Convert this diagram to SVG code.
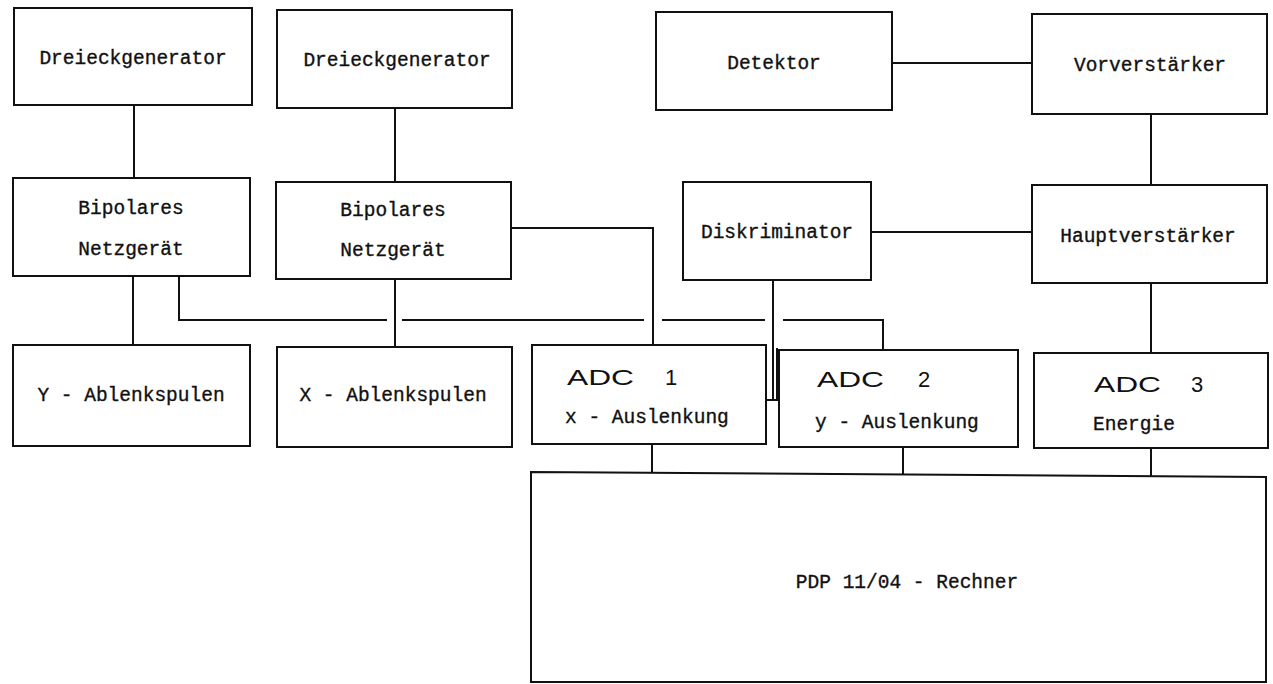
<svg xmlns="http://www.w3.org/2000/svg" width="1273" height="684" viewBox="0 0 1273 684">
<style>
.box{fill:#fff;stroke:#111;stroke-width:2}
.wire{fill:none;stroke:#111;stroke-width:2}
.lbl{font-family:"Liberation Mono","DejaVu Sans Mono",monospace;font-size:19.5px;fill:#111;stroke:#111;stroke-width:0.35;text-anchor:middle}
.lbs{font-family:"Liberation Mono","DejaVu Sans Mono",monospace;font-size:19.5px;fill:#111;stroke:#111;stroke-width:0.35}
.adc{font-family:"Liberation Sans",Arial,sans-serif;font-size:22px;fill:#111}
</style>
<rect width="1273" height="684" fill="#fff"/>
<g id="connectors">
<path class="wire" d="M134 105V178"/>
<path class="wire" d="M395 108V182"/>
<path class="wire" d="M892 63H1032"/>
<path class="wire" d="M1151 114V185"/>
<path class="wire" d="M133 276V345"/>
<path class="wire" d="M395 279V347"/>
<path class="wire" d="M511 228H653V345"/>
<path class="wire" d="M871 232H1032"/>
<path class="wire" d="M1151 283V353"/>
<path class="wire" d="M179 276V320H387M402 320H644M662 320H765M783 320H883V350"/>
<path class="wire" d="M773 280V400M777 348V400M766 400H779"/>
<path class="wire" d="M652 444V472"/>
<path class="wire" d="M903 447V474"/>
<path class="wire" d="M1151 448V477"/>
</g>
<g id="dreieck1"><rect class="box" x="14" y="8" width="238" height="97"/><text class="lbl" x="133" y="64">Dreieckgenerator</text></g>
<g id="dreieck2"><rect class="box" x="277" y="10" width="235" height="98"/><text class="lbl" x="397" y="66">Dreieckgenerator</text></g>
<g id="detektor"><rect class="box" x="656" y="12" width="236" height="98"/><text class="lbl" x="774" y="69">Detektor</text></g>
<g id="vorverstaerker"><rect class="box" x="1032" y="14" width="235" height="100"/><text class="lbl" x="1150" y="71">Vorverstärker</text></g>
<g id="bipolar1"><rect class="box" x="13" y="178" width="237" height="98"/><text class="lbl" x="131" y="214">Bipolares</text><text class="lbl" x="131" y="255">Netzgerät</text></g>
<g id="bipolar2"><rect class="box" x="276" y="182" width="235" height="97"/><text class="lbl" x="393" y="216">Bipolares</text><text class="lbl" x="393" y="256">Netzgerät</text></g>
<g id="diskriminator"><rect class="box" x="683" y="182" width="188" height="98"/><text class="lbl" x="777" y="238">Diskriminator</text></g>
<g id="hauptverstaerker"><rect class="box" x="1032" y="185" width="235" height="98"/><text class="lbl" x="1148" y="242">Hauptverstärker</text></g>
<g id="yablenk"><rect class="box" x="13" y="345" width="237" height="101"/><text class="lbl" x="131" y="401">Y - Ablenkspulen</text></g>
<g id="xablenk"><rect class="box" x="277" y="347" width="235" height="100"/><text class="lbl" x="393" y="401">X - Ablenkspulen</text></g>
<g id="adc1"><rect class="box" x="532" y="345" width="234" height="99"/><text class="adc" y="385"><tspan x="567" textLength="67" lengthAdjust="spacingAndGlyphs">ADC</tspan> <tspan x="665">1</tspan></text><text class="lbs" x="565" y="423">x - Auslenkung</text></g>
<g id="adc2"><rect class="box" x="779" y="350" width="239" height="97"/><text class="adc" y="387"><tspan x="817" textLength="67" lengthAdjust="spacingAndGlyphs">ADC</tspan> <tspan x="918">2</tspan></text><text class="lbs" x="815" y="428">y - Auslenkung</text></g>
<g id="adc3"><rect class="box" x="1034" y="353" width="234" height="95"/><text class="adc" y="392"><tspan x="1094" textLength="67" lengthAdjust="spacingAndGlyphs">ADC</tspan> <tspan x="1191">3</tspan></text><text class="lbs" x="1093" y="430">Energie</text></g>
<g id="pdp"><path class="box" d="M531 472L1266 477V682H531Z"/><text class="lbl" x="907" y="588">PDP 11/04 - Rechner</text></g>
</svg>
